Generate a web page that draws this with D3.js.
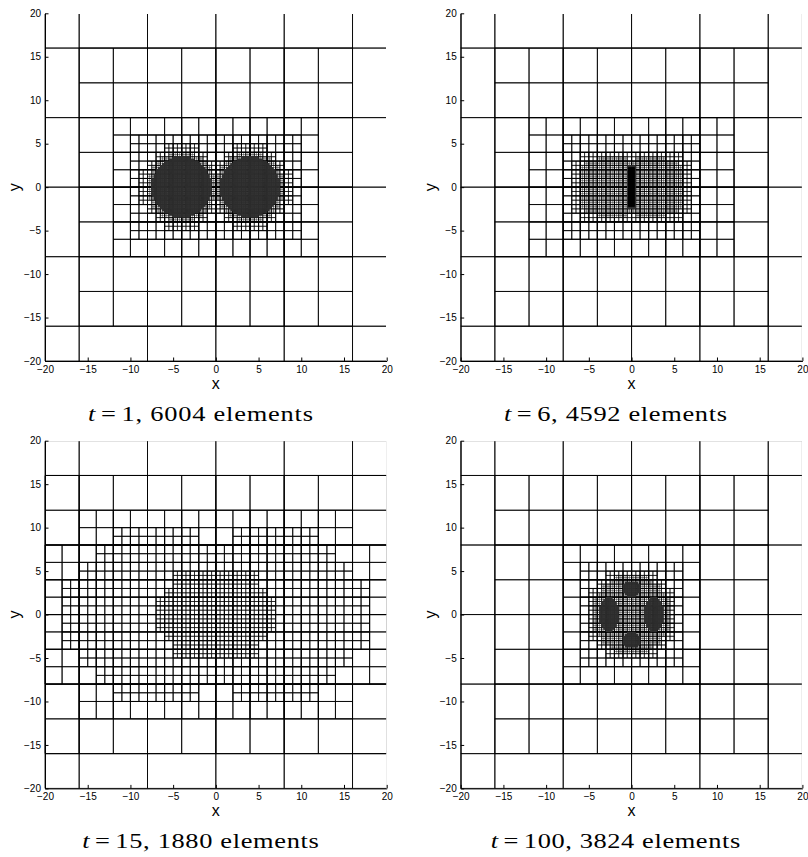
<!DOCTYPE html>
<html><head><meta charset="utf-8">
<script src="https://cdn.jsdelivr.net/npm/d3@7"></script>
<style>body{margin:0;background:#fff} svg{display:block}</style>
</head><body>
<svg id="chart" width="808" height="857"></svg>
<script>
// ---------------- data ----------------
const tValues = [1, 6, 15, 100];
const elementCounts = [6004, 4592, 1880, 3824];
const xTicks = [-20, -15, -10, -5, 0, 5, 10, 15, 20];
const yTicks = [-20, -15, -10, -5, 0, 5, 10, 15, 20];
const domainLimits = [-20, 20];
// cell edge length for each refinement level
const levelSizes = [8, 4, 2, 1, 0.5, 0.25, 0.125, 0.0625];

// refinement regions: [level, shape, a, b, c, d]
//   rect    -> x0, x1, y0, y1
//   ellipse -> cx, cy, rx, ry
const meshT1 = [
  [0, 'rect', -20, 20, -20, 20],
  [1, 'rect', -16, 16, -16, 16],
  [2, 'rect', -12, 12, -8, 8],
  [3, 'rect', -10, 10, -6, 6],
  [4, 'rect', -9, 9, -2, 2],
  [4, 'rect', -8, 8, 2, 3], [4, 'rect', -8, 8, -3, -2],
  [4, 'rect', -7, -1, 3, 4], [4, 'rect', 1, 7, 3, 4],
  [4, 'rect', -7, -1, -4, -3], [4, 'rect', 1, 7, -4, -3],
  [4, 'rect', -6, -2, 4, 5], [4, 'rect', 2, 6, 4, 5],
  [4, 'rect', -6, -2, -5, -4], [4, 'rect', 2, 6, -5, -4],
  [5, 'ellipse', -4, 0, 4.0, 4.0], [5, 'ellipse', 4, 0, 4.0, 4.0],
  [6, 'ellipse', -4, 0, 3.5, 3.5], [6, 'ellipse', 4, 0, 3.5, 3.5]
];
const meshT6 = [
  [0, 'rect', -20, 20, -20, 20],
  [1, 'rect', -16, 16, -16, 16],
  [2, 'rect', -12, 12, -8, 8],
  [3, 'rect', -8, 8, -6, 6],
  [4, 'rect', -7, 7, -3, 3], [4, 'rect', -6, 6, 3, 4], [4, 'rect', -6, 6, -4, -3],
  [5, 'rect', -6, 6, -2.5, 2.5],
  [5, 'rect', -5.5, 5.5, 2.5, 3], [5, 'rect', -5.5, 5.5, -3, -2.5],
  [5, 'rect', -4, -0.5, 3, 3.5], [5, 'rect', 0.5, 4, 3, 3.5],
  [5, 'rect', -4, -0.5, -3.5, -3], [5, 'rect', 0.5, 4, -3.5, -3],
  [6, 'rect', -0.5, 0.5, -2.5, 2.5],
  [7, 'rect', -0.375, 0.375, -2.25, 2.25]
];
const meshT15 = [
  [0, 'rect', -20, 20, -20, 20],
  [1, 'rect', -20, 20, -16, 16],
  [2, 'rect', -16, 16, -12, 12], [2, 'rect', -20, 20, -8, 8],
  [3, 'rect', -12, -2, 8, 10], [3, 'rect', 2, 12, 8, 10],
  [3, 'rect', -12, -2, -10, -8], [3, 'rect', 2, 12, -10, -8],
  [3, 'rect', -14, 14, 6, 8], [3, 'rect', -14, 14, -8, -6],
  [3, 'rect', -16, 16, 4, 6], [3, 'rect', -16, 16, -6, -4],
  [3, 'rect', -18, 18, -4, 4],
  [4, 'rect', -5, 5, 3, 5], [4, 'rect', -6, 6, 2, 3], [4, 'rect', -7, 7, -2, 2],
  [4, 'rect', -6, 6, -3, -2], [4, 'rect', -5, 5, -5, -3]
];
const meshT100 = [
  [0, 'rect', -20, 20, -20, 20],
  [1, 'rect', -16, 16, -16, 16],
  [2, 'rect', -8, 8, -8, 8],
  [3, 'rect', -6, 6, -6, 6],
  [4, 'ellipse', 0, 0, 5.2, 5.2],
  [5, 'ellipse', 0, 0, 4.6, 4.6],
  [6, 'ellipse', -2.65, 0, 1.15, 2.05], [6, 'ellipse', 2.65, 0, 1.15, 2.05],
  [6, 'ellipse', 0, 2.95, 1.1, 0.92], [6, 'ellipse', 0, -2.95, 1.1, 0.92]
];
const meshes = [meshT1, meshT6, meshT15, meshT100];

// ---------------- layout ----------------
const panelX = [45, 460.7], panelY = [13.3, 440.7];
const plotW = 341.7, plotH = 347.7;
const captionCX = [200.5, 615.5, 200.5, 615.5];
const captionW = [225, 223, 236.6, 249.4];
const captionBase = [420.5, 420.5, 847.5, 847.5];
const capScale = 1.2;
// stroke style per level group (fine first, coarse drawn on top)
const lineGroups = [
  { levels: [5], w: 0.6, op: 0.4 },
  { levels: [4], w: 0.65, op: 0.9 },
  { levels: [0, 1, 2, 3], w: 0.8, op: 1 }
];

function cellsForLevel(mesh, L) {
  const s = levelSizes[L], eps = 1e-9;
  const seen = new Set(), cells = [];
  mesh.filter(r => r[0] === L).forEach(r => {
    const shape = r[1], a = r[2], b = r[3], c = r[4], d = r[5];
    let bx0, bx1, by0, by1;
    if (shape === 'rect') { bx0 = a; bx1 = b; by0 = c; by1 = d; }
    else { bx0 = a - c - 2 * s; bx1 = a + c + 2 * s; by0 = b - d - 2 * s; by1 = b + d + 2 * s; }
    const i0 = Math.floor(bx0 / s), i1 = Math.ceil(bx1 / s);
    const j0 = Math.floor(by0 / s), j1 = Math.ceil(by1 / s);
    for (let i = i0; i < i1; i++) for (let j = j0; j < j1; j++) {
      const cx0 = i * s, cx1 = (i + 1) * s, cy0 = j * s, cy1 = (j + 1) * s;
      let inside;
      if (shape === 'rect') inside = cx0 < b - eps && cx1 > a + eps && cy0 < d - eps && cy1 > c + eps;
      else {
        const ps = 2 * s, pcx = (Math.floor(i / 2) + 0.5) * ps, pcy = (Math.floor(j / 2) + 0.5) * ps;
        inside = ((pcx - a) / c) ** 2 + ((pcy - b) / d) ** 2 <= 1;
      }
      if (!inside) continue;
      const X0 = Math.max(cx0, domainLimits[0]), X1 = Math.min(cx1, domainLimits[1]);
      const Y0 = Math.max(cy0, domainLimits[0]), Y1 = Math.min(cy1, domainLimits[1]);
      if (X1 <= X0 || Y1 <= Y0) continue;
      const key = i + ',' + j;
      if (seen.has(key)) continue;
      seen.add(key);
      cells.push({ x0: X0, x1: X1, y0: Y0, y1: Y1, level: L });
    }
  });
  return cells;
}

const svg = d3.select('#chart');
const defs = svg.append('defs');
const sans = '"Liberation Sans", Arial, sans-serif';

meshes.forEach((mesh, k) => {
  const col = k % 2, row = Math.floor(k / 2);
  const x0 = panelX[col], y0 = panelY[row];
  const xs = d3.scaleLinear().domain(domainLimits).range([x0, x0 + plotW]);
  const ys = d3.scaleLinear().domain(domainLimits).range([y0 + plotH, y0]);

  defs.append('clipPath').attr('id', 'clip' + k).append('rect')
    .attr('x', x0 - 1).attr('y', y0 + 0.6)
    .attr('width', plotW + 0.4).attr('height', plotH + 0.4);

  const g = svg.append('g').attr('clip-path', `url(#clip${k})`);
  const maxLevel = d3.max(mesh, r => r[0]);

  lineGroups.forEach(grp => {
    const p = d3.path();
    let n = 0;
    grp.levels.filter(L => L <= maxLevel).forEach(L => {
      cellsForLevel(mesh, L).forEach(c => {
        n++;
        p.rect(xs(c.x0), ys(c.y1), xs(c.x1) - xs(c.x0), ys(c.y0) - ys(c.y1));
      });
    });
    if (n) g.append('path').attr('d', p.toString())
      .attr('fill', 'none').attr('stroke', '#000')
      .attr('stroke-width', grp.w).attr('stroke-opacity', grp.op);
  });

  // very fine levels drawn as filled cells
  for (let L = 6; L <= maxLevel; L++) {
    const cells = cellsForLevel(mesh, L);
    const col6 = L >= 7 ? '#030303' : '#2f2f2f';
    g.append('g').selectAll('rect').data(cells).join('rect')
      .attr('x', c => xs(c.x0)).attr('y', c => ys(c.y1))
      .attr('width', c => xs(c.x1) - xs(c.x0)).attr('height', c => ys(c.y0) - ys(c.y1))
      .attr('fill', col6).attr('stroke', col6).attr('stroke-width', 0.3);
  }

  // axes
  const axB = d3.axisBottom(xs).tickValues(xTicks).tickSizeInner(-3.5).tickSizeOuter(0).tickPadding(5);
  const axL = d3.axisLeft(ys).tickValues(yTicks).tickSizeInner(-3.5).tickSizeOuter(0).tickPadding(4);
  const gb = svg.append('g').attr('transform', `translate(0,${y0 + plotH})`).call(axB);
  const gl = svg.append('g').attr('transform', `translate(${x0},0)`).call(axL);
  [gb, gl].forEach(a => {
    a.attr('font-family', sans).attr('font-size', 10).attr('color', '#000');
    a.selectAll('path,line').attr('stroke-width', 1);
  });

  svg.append('text').attr('x', xs(0)).attr('y', y0 + plotH + 28)
    .attr('text-anchor', 'middle').attr('font-family', sans)
    .attr('font-size', 16).text('x');
  svg.append('text').attr('transform', `translate(${x0 - 25},${ys(0)}) rotate(-90)`)
    .attr('text-anchor', 'middle').attr('font-family', sans)
    .attr('font-size', 16).text('y');

  // caption
  const cg = svg.append('g').attr('transform', `translate(${captionCX[k]},${captionBase[k]}) scale(${capScale},1)`);
  const cap = cg.append('text')
    .attr('x', -captionW[k] / capScale / 2).attr('y', 0)
    .attr('font-family', '"Liberation Serif", "Times New Roman", serif').attr('font-size', 22)
    .attr('textLength', captionW[k] / capScale).attr('lengthAdjust', 'spacing')
    .style('white-space', 'pre');
  cap.append('tspan').attr('font-style', 'italic').text('t');
  cap.append('tspan').attr('dx', 4).text('=');
  cap.append('tspan').attr('dx', 4).text(`${tValues[k]}, ${elementCounts[k]} elements`);
});
</script>
</body></html>
